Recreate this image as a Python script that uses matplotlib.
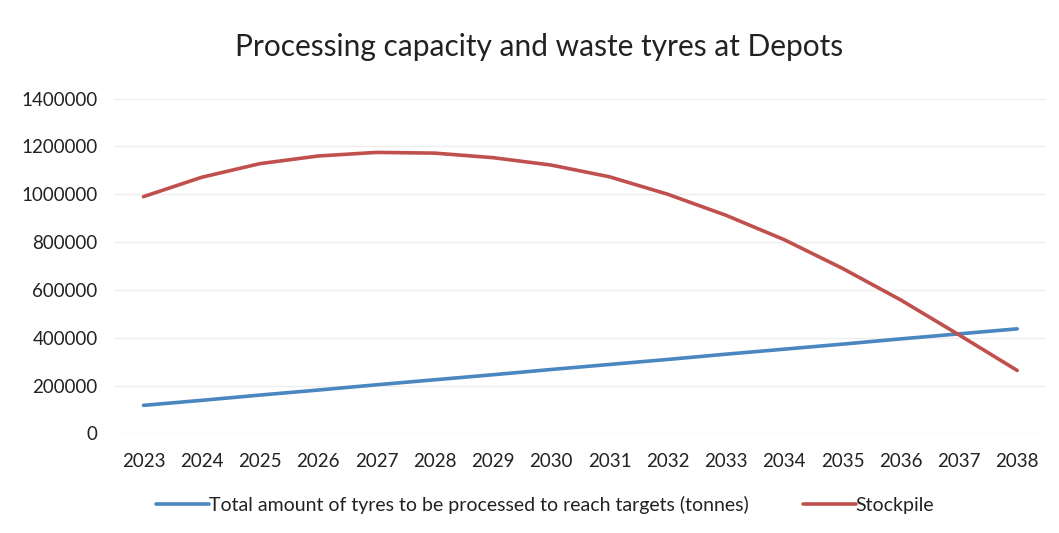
import matplotlib.pyplot as plt

plt.rcParams['font.family'] = ['Lato', 'DejaVu Sans']

years = list(range(2023, 2039))
processed = [117000, 138000, 160000, 181000, 203000, 224000, 245000, 267000,
             288000, 309000, 331000, 352000, 373000, 395000, 416000, 437000]
stockpile = [990000, 1071000, 1128000, 1160000, 1175000, 1172000, 1153000, 1122000,
             1073000, 1000000, 912000, 810000, 690000, 558000, 412000, 263000]
yticks = [0, 200000, 400000, 600000, 800000, 1000000, 1200000, 1400000]

fig = plt.figure(figsize=(10.59, 5.33), dpi=100)
ax = fig.add_axes([0.108, 0.187, 0.88, 0.628])

ax.plot(years, processed, color='#4a86c0', lw=2.6, solid_capstyle='round',
        label='Total amount of tyres to be processed to reach targets (tonnes)')
ax.plot(years, stockpile, color='#c0504d', lw=2.6, solid_capstyle='round',
        label='Stockpile')

ax.set_xlim(2022.5, 2038.5)
ax.set_ylim(0, 1400000)
ax.set_yticks(yticks)
ax.set_yticklabels([str(v) for v in yticks])
ax.set_xticks(years)
ax.set_xticklabels([str(y) for y in years])
ax.tick_params(length=0, labelsize=13.5, colors='#222222')
ax.tick_params(axis='y', pad=12)
ax.tick_params(axis='x', pad=14)
ax.grid(axis='y', color='#eeeeee', lw=1)
ax.set_axisbelow(True)
for s in ax.spines.values():
    s.set_visible(False)

fig.text(0.509, 0.912, 'Processing capacity and waste tyres at Depots',
         ha='center', va='center', fontsize=21.5, color='#222222')

leg = fig.legend(loc='center', bbox_to_anchor=(0.515, 0.053), ncol=2, frameon=False,
                 fontsize=14, handlelength=2.7, handletextpad=0.0, columnspacing=2.8)
for t in leg.get_texts():
    t.set_color('#222222')

fig.savefig('out.png', dpi=100, facecolor='white')
